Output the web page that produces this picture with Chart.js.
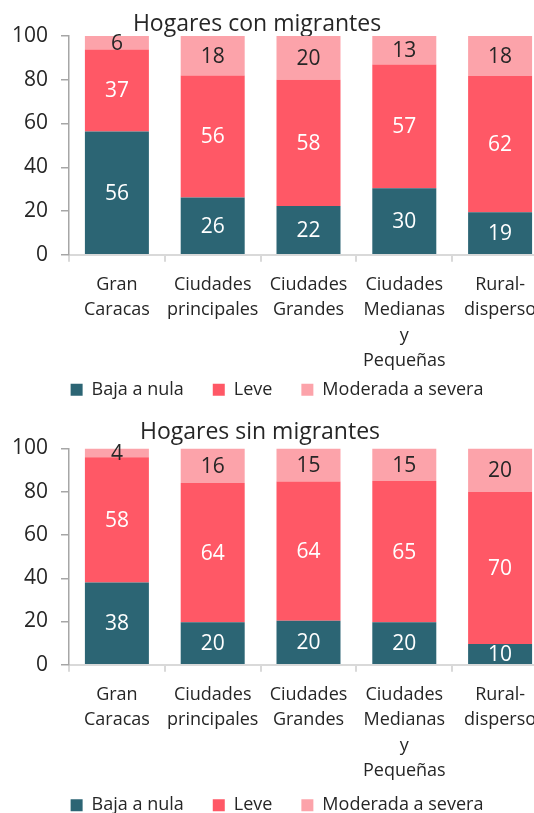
<!DOCTYPE html>
<html lang="es">
<head>
<meta charset="utf-8">
<title>Hogares con y sin migrantes</title>
<script src="https://cdn.jsdelivr.net/npm/chart.js@4.4.1/dist/chart.umd.min.js"></script>
<style>
  html, body { margin: 0; padding: 0; background: #fff; }
  body { width: 534px; height: 813px; overflow: hidden; position: relative; }
  .panel { position: absolute; left: 0; }
  #panelCon { top: 0; }
  #panelSin { top: 410px; }
</style>
</head>
<body>
<div class="panel" id="panelCon"><canvas id="chartCon" width="560" height="441"></canvas></div>
<div class="panel" id="panelSin"><canvas id="chartSin" width="560" height="441"></canvas></div>
<script>
// Datos (porcentajes)
const categories = [
  ["Gran", "Caracas"],
  ["Ciudades", "principales"],
  ["Ciudades", "Grandes"],
  ["Ciudades", "Medianas", "y", "Pequeñas"],
  ["Rural-", "disperso"]
];
const seriesNames = ["Baja a nula", "Leve", "Moderada a severa"];
const yTicks = [0, 20, 40, 60, 80, 100];

const conBaja = [56.4, 26.2, 22.3, 30.4, 19.4];
const conLeve = [37.4, 55.8, 57.7, 56.6, 62.3];
const conModerada = [6.2, 18.0, 20.0, 13.0, 18.3];

const sinBaja = [38.0, 19.6, 20.4, 19.7, 9.6];
const sinLeve = [58.0, 64.4, 64.3, 65.3, 70.3];
const sinModerada = [4.0, 16.0, 15.3, 15.0, 20.1];

const COLORS = ["#2C6574", "#FF5866", "#FCA3AA"];
const LABEL_COLORS = ["#ffffff", "#ffffff", "#262626"];
const FONT = "'Open Sans', 'Noto Sans', sans-serif";
const TEXT = "#262626";

// Etiquetas de valor centradas en cada segmento
const segmentLabels = {
  id: "segmentLabels",
  afterDatasetsDraw(chart) {
    const { ctx } = chart;
    ctx.save();
    ctx.font = `21px ${FONT}`;
    ctx.textAlign = "center";
    ctx.textBaseline = "middle";
    chart.data.datasets.forEach((dataset, i) => {
      const meta = chart.getDatasetMeta(i);
      meta.data.forEach((bar, j) => {
        ctx.fillStyle = LABEL_COLORS[i];
        ctx.fillText(String(Math.round(dataset.data[j])), bar.x, (bar.y + bar.base) / 2 + 1);
      });
    });
    ctx.restore();
  }
};

// Acerca la leyenda al eje X y recentra título/leyenda como en el original
const placeBlocks = {
  id: "placeBlocks",
  afterLayout(chart, args, opts) {
    const legend = chart.legend;
    const dy = chart.chartArea.bottom + opts.legendGap - legend.top;
    legend.top += dy;
    legend.bottom += dy;
    legend.left += opts.legendDx;
    legend.right += opts.legendDx;
    const title = chart.titleBlock;
    title.left += opts.titleDx;
    title.right += opts.titleDx;
    title.top += opts.titleDy;
    title.bottom += opts.titleDy;
  }
};

function buildChart(canvasId, title, series, opts) {
  return new Chart(document.getElementById(canvasId), {
    type: "bar",
    data: {
      labels: categories,
      datasets: series.map((values, i) => ({
        label: seriesNames[i],
        data: values,
        backgroundColor: COLORS[i],
        borderWidth: 0,
        barPercentage: 0.668,
        categoryPercentage: 1
      }))
    },
    options: {
      responsive: false,
      animation: false,
      devicePixelRatio: 1,
      layout: { padding: { left: 0, right: 12, top: 0, bottom: 0 } },
      plugins: {
        title: {
          display: true,
          text: title,
          color: TEXT,
          font: { family: FONT, size: 23, weight: "normal", lineHeight: 1.2 },
          padding: { top: opts.titleTop, bottom: opts.titleBottom }
        },
        legend: {
          position: "bottom",
          labels: {
            color: TEXT,
            font: { family: FONT, size: 18 },
            boxWidth: 12,
            boxHeight: 12,
            padding: 29
          }
        },
        tooltip: { enabled: false },
        placeBlocks: opts.place
      },
      scales: {
        x: {
          stacked: true,
          grid: {
            display: true,
            drawOnChartArea: false,
            drawTicks: true,
            tickLength: 7,
            color: "#D9D9D9",
            lineWidth: 2
          },
          border: { display: true, color: "#D9D9D9", width: 2 },
          ticks: {
            color: TEXT,
            font: { family: FONT, size: 18, lineHeight: 1.42 },
            padding: 10,
            maxRotation: 0,
            autoSkip: false
          }
        },
        y: {
          stacked: true,
          min: 0,
          max: 100,
          afterBuildTicks: (scale) => { scale.ticks = yTicks.map((v) => ({ value: v })); },
          grid: {
            display: true,
            drawOnChartArea: false,
            drawTicks: true,
            tickLength: 8,
            color: "#A6A6A6",
            lineWidth: 1.5
          },
          border: { display: true, color: "#A6A6A6", width: 1.5 },
          ticks: {
            color: TEXT,
            font: { family: FONT, size: 21 },
            padding: 13
          },
          afterFit: (scale) => { scale.width = 69; }
        }
      }
    },
    plugins: [segmentLabels, placeBlocks]
  });
}

buildChart("chartCon", "Hogares con migrantes", [conBaja, conLeve, conModerada], {
  titleTop: 8.2, titleBottom: 0.2,
  place: { legendGap: 97, legendDx: 3, titleDx: -17, titleDy: 2 }
});
buildChart("chartSin", "Hogares sin migrantes", [sinBaja, sinLeve, sinModerada], {
  titleTop: 7.2, titleBottom: 3.7,
  place: { legendGap: 102.5, legendDx: 3, titleDx: -14, titleDy: 1 }
});
</script>
</body>
</html>
